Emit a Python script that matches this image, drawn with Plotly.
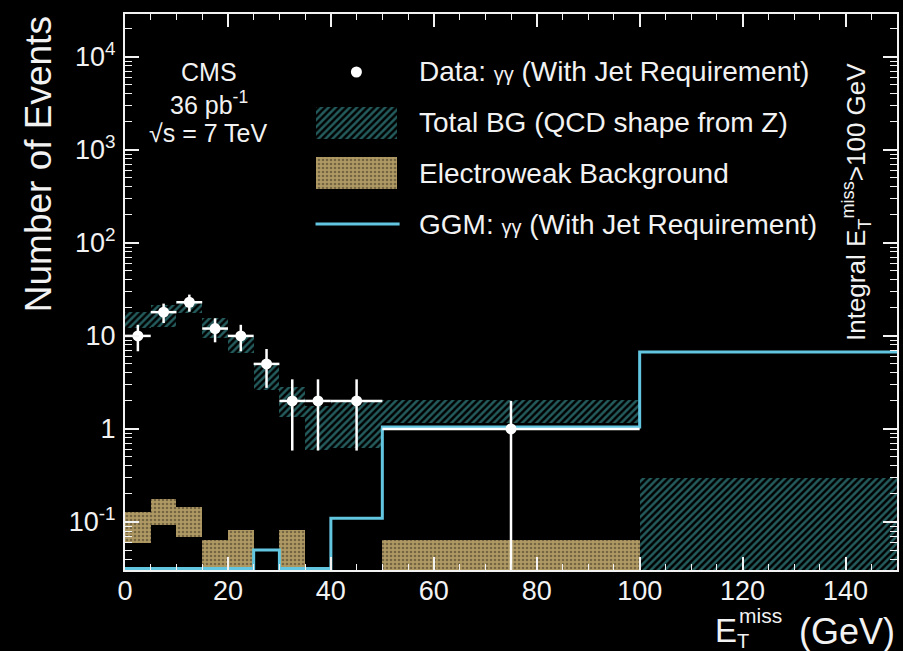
import numpy as np
import plotly.graph_objects as go

# Binning in missing transverse energy (GeV)
bin_edges = [0, 5, 10, 15, 20, 25, 30, 35, 40, 50, 100, 150]

# Observed events (gamma-gamma with jet requirement)
data_counts = [10, 18, 23, 12, 10, 5, 2, 2, 2, 1, 0]

# Total background band (upper / lower edge of the uncertainty)
bg_upper = [18.2, 21.5, 24.0, 15.5, 10.2, 4.9, 2.8, 1.75, 2.0, 2.05, 0.30]
bg_lower = [12.2, 12.4, 17.7, 9.5, 6.5, 2.6, 1.35, 0.6, 0.63, 1.15, 0.0]

# Electroweak background band
ew_upper = [0.128, 0.177, 0.145, 0.064, 0.082, 0.0, 0.082, 0.0, 0.0, 0.064, 0.0]
ew_lower = [0.059, 0.093, 0.069, 0.0, 0.0, 0.0, 0.0, 0.0, 0.0, 0.0, 0.0]

# GGM signal expectation
ggm_values = [0, 0, 0, 0, 0, 0.05, 0, 0, 0.11, 1.05, 6.7]

y_tick_vals = [0.1, 1, 10, 100, 1000, 10000]
y_tick_text = ["10<sup>-1</sup>", "1", "10", "10<sup>2</sup>", "10<sup>3</sup>", "10<sup>4</sup>"]

# ---------------------------------------------------------------- style
FONT = "Liberation Sans, Arial, Helvetica, sans-serif"
WHITE = "#f2f2f2"
TEAL = "#48b8ba"
TAN = "#b09a64"
TAN_DOT = "#3a3122"
CYAN = "#62c6e0"
Y_LOG_RANGE = [-1.516, 4.46]
FLOOR = 10 ** Y_LOG_RANGE[0] * 1.04  # empty bins sit on the lower frame

edges = np.array(bin_edges, dtype=float)
centers = 0.5 * (edges[:-1] + edges[1:])
widths = np.diff(edges)

teal_pattern = dict(shape="/", fgcolor=TEAL, bgcolor="black", size=5, solidity=0.5)
tan_pattern = dict(shape=".", fgcolor=TAN_DOT, bgcolor=TAN, size=4, solidity=0.35)


def band_trace(upper, lower, pattern, name):
    up = np.array(upper, dtype=float)
    lo = np.array(lower, dtype=float)
    keep = up > 0
    lo = np.where(lo > 0, lo, 1e-3)
    return go.Bar(
        x=centers[keep], width=widths[keep], base=lo[keep], y=(up - lo)[keep],
        marker=dict(color="black", pattern=pattern, line=dict(width=0)),
        name=name, showlegend=False, hoverinfo="skip",
    )


fig = go.Figure()
fig.add_trace(band_trace(ew_upper, ew_lower, tan_pattern, "Electroweak Background"))
fig.add_trace(band_trace(bg_upper, bg_lower, teal_pattern, "Total BG"))

# GGM step histogram
ggm = np.array(ggm_values, dtype=float)
ggm_plot = np.where(ggm > 0, ggm, FLOOR)
fig.add_trace(go.Scatter(
    x=edges, y=np.append(ggm_plot, ggm_plot[-1]), mode="lines",
    line=dict(color=CYAN, width=3, shape="hv"), showlegend=False, hoverinfo="skip",
))

# Data points with Poisson errors
counts = np.array(data_counts, dtype=float)
has = counts > 0
err = np.sqrt(counts)
err_lo = np.minimum(err, counts - FLOOR * 0.5)
fig.add_trace(go.Scatter(
    x=centers[has], y=counts[has], mode="markers",
    marker=dict(color="white", size=11),
    error_y=dict(type="data", array=err[has], arrayminus=err_lo[has],
                 color="white", thickness=2.5, width=0),
    error_x=dict(type="data", array=widths[has] / 2, color="white", thickness=2.5, width=0),
    showlegend=False, hoverinfo="skip",
))

# ---------------------------------------------------------------- legend
# swatches drawn on a hidden unit-square axis pair laid over the plot area
LEG = dict(x0=0.2468, x1=0.3527, text_x=0.3786,
           rows=[0.8957, 0.8040, 0.7140, 0.6223], half_h=0.028)
fig.add_trace(go.Scatter(
    x=[0.5 * (LEG["x0"] + LEG["x1"])], y=[LEG["rows"][0]], mode="markers",
    marker=dict(color="white", size=11), xaxis="x2", yaxis="y2",
    showlegend=False, hoverinfo="skip"))
for row, pat in ((1, teal_pattern), (2, tan_pattern)):
    fig.add_trace(go.Bar(
        x=[0.5 * (LEG["x0"] + LEG["x1"])], width=[LEG["x1"] - LEG["x0"]],
        base=[LEG["rows"][row] - LEG["half_h"]], y=[2 * LEG["half_h"]],
        marker=dict(color="black", pattern=pat, line=dict(width=0)),
        xaxis="x2", yaxis="y2", showlegend=False, hoverinfo="skip"))
fig.add_trace(go.Scatter(
    x=[LEG["x0"], LEG["x1"] + 0.003], y=[LEG["rows"][3]] * 2, mode="lines",
    line=dict(color=CYAN, width=3), xaxis="x2", yaxis="y2",
    showlegend=False, hoverinfo="skip"))

gg = '<span style="font-size:20px">γγ</span>'
legend_labels = [
    f"Data: {gg} (With Jet Requirement)",
    "Total BG (QCD shape from Z)",
    "Electroweak Background",
    f"GGM: {gg} (With Jet Requirement)",
]
annotations = []
for lbl, yy in zip(legend_labels, LEG["rows"]):
    annotations.append(dict(text=lbl, x=LEG["text_x"], y=yy, xref="paper", yref="paper",
                            xanchor="left", yanchor="middle", showarrow=False,
                            font=dict(size=28, color=WHITE, family=FONT)))

# CMS label block
for txt, yy in (("CMS", 0.8957), ("36 pb<sup>-1</sup>", 0.8400), ("√s = 7 TeV", 0.7860)):
    annotations.append(dict(text=txt, x=0.1085, y=yy, xref="paper", yref="paper",
                            xanchor="center", yanchor="middle", showarrow=False,
                            font=dict(size=25, color=WHITE, family=FONT)))

# rotated note on the right
annotations.append(dict(text="Integral E<sub>T</sub><sup>miss</sup>>100 GeV", textangle=-90,
                        x=0.9470, y=0.662, xref="paper", yref="paper",
                        xanchor="center", yanchor="middle", showarrow=False,
                        font=dict(size=26, color=WHITE, family=FONT)))

# axis titles
annotations.append(dict(text="Number of Events", textangle=-90, x=-0.1124, y=1.0,
                        xref="paper", yref="paper", xanchor="center", yanchor="top",
                        showarrow=False, font=dict(size=37, color=WHITE, family=FONT)))
annotations.append(dict(text="(GeV)", x=1.0, y=-0.110, xref="paper", yref="paper",
                        xanchor="right", yanchor="middle", showarrow=False,
                        font=dict(size=36, color=WHITE, family=FONT)))
annotations.append(dict(text="E", x=0.7615, y=-0.108, xref="paper", yref="paper",
                        xanchor="left", yanchor="middle", showarrow=False,
                        font=dict(size=33, color=WHITE, family=FONT)))
annotations.append(dict(text="miss", x=0.7930, y=-0.081, xref="paper", yref="paper",
                        xanchor="left", yanchor="middle", showarrow=False,
                        font=dict(size=21, color=WHITE, family=FONT)))
annotations.append(dict(text="T", x=0.7900, y=-0.128, xref="paper", yref="paper",
                        xanchor="left", yanchor="middle", showarrow=False,
                        font=dict(size=20, color=WHITE, family=FONT)))

axis_common = dict(showline=True, linecolor=WHITE, linewidth=2, mirror="ticks",
                   ticks="inside", tickcolor=WHITE, showgrid=False, zeroline=False,
                   tickfont=dict(size=27, color=WHITE, family=FONT))

fig.update_layout(
    width=903, height=651,
    margin=dict(l=125, r=4, t=14, b=81),
    paper_bgcolor="black", plot_bgcolor="black",
    barmode="overlay", bargap=0,
    showlegend=False,
    xaxis=dict(range=[0, 150], tick0=0, dtick=20, ticklen=13, tickwidth=1.5,
               ticklabelstandoff=-4,
               minor=dict(ticks="inside", dtick=5, ticklen=6, tickcolor=WHITE, tickwidth=1),
               **axis_common),
    yaxis=dict(type="log", range=Y_LOG_RANGE, tickvals=y_tick_vals, ticktext=y_tick_text,
               ticklen=14, tickwidth=1.5, ticklabelstandoff=2,
               minor=dict(ticks="inside", ticklen=7, tickcolor=WHITE, tickwidth=1, dtick="D1"),
               **axis_common),
    xaxis2=dict(overlaying="x", range=[0, 1], visible=False),
    yaxis2=dict(overlaying="y", range=[0, 1], visible=False),
    annotations=annotations,
)

fig.write_html("out.html")
